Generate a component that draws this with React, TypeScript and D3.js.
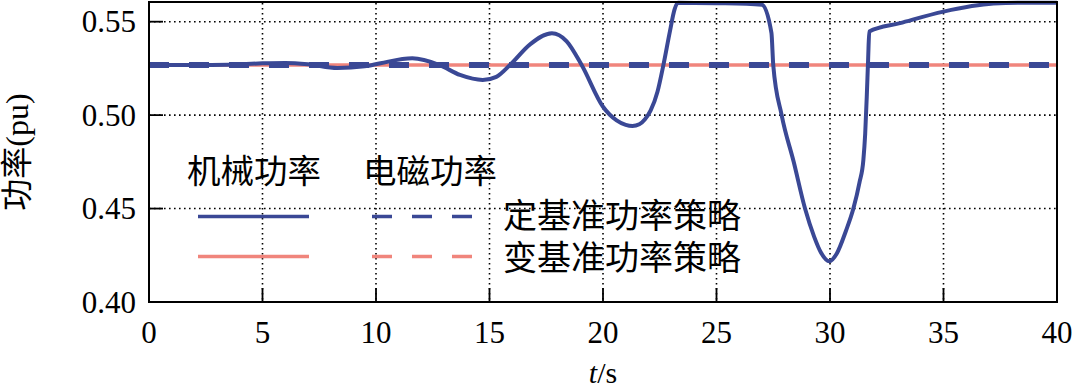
import React from "react";
import * as d3 from "d3";

const W = 1074;
const H = 389;

// x ticks (s) and y ticks (pu)
const xTicks = [0, 5, 10, 15, 20, 25, 30, 35, 40];
const yTicks = [0.4, 0.45, 0.5, 0.55];
const yTickLabels = ["0.40", "0.45", "0.50", "0.55"];

// 定基准功率策略 — 机械功率 (blue solid)
const fixedMechT = [0, 2, 3.5, 5, 6, 7, 8.3, 9.5, 10.2, 11.6, 12.8, 13.7, 14.7, 15.3, 15.9, 16.8, 17.75, 18.4, 19.06, 20, 20.6, 21.0, 21.3, 21.6, 21.85, 22.1, 22.4, 22.66, 22.95, 23.15, 23.3, 25, 27.0, 27.42, 27.5, 27.87, 28.4, 28.9, 29.3, 29.6, 29.97, 30.3, 30.7, 31.03, 31.3, 31.47, 31.55, 31.62, 31.68, 31.73, 33.08, 35, 37.2, 38.5, 40];
const fixedMechP = [0.5268, 0.5268, 0.527, 0.5277, 0.5279, 0.5272, 0.5252, 0.5261, 0.5278, 0.5304, 0.5268, 0.5215, 0.5188, 0.5205, 0.5268, 0.538, 0.5438, 0.5395, 0.5268, 0.5045, 0.4972, 0.4948, 0.4942, 0.4951, 0.4978, 0.5025, 0.5125, 0.5268, 0.545, 0.5565, 0.5602, 0.5599, 0.5591, 0.544, 0.5268, 0.5, 0.475, 0.45, 0.435, 0.4265, 0.4218, 0.426, 0.438, 0.45, 0.464, 0.476, 0.49, 0.51, 0.53, 0.5447, 0.5492, 0.5554, 0.5597, 0.5602, 0.5602];

// 定基准功率策略 — 电磁功率 (blue dashed)
const fixedElecT = [0, 40];
const fixedElecP = [0.5268, 0.5268];

// 变基准功率策略 — 机械功率 / 电磁功率 (pink)
const varMechT = [0, 40];
const varMechP = [0.5268, 0.5268];
const varElecT = [0, 40];
const varElecP = [0.5268, 0.5268];

const colHeaders = ["机械功率", "电磁功率"];
const rowLabels = ["定基准功率策略", "变基准功率策略"];

const BLUE = "#3a4895";
const PINK = "#f0857c";
const SERIF = "'Liberation Serif', 'DejaVu Serif', 'Times New Roman', Times, serif";
const CJK = "'Noto Sans CJK SC', sans-serif";

export default function App() {
  const left = 149, right = 1057, top = 3, bottom = 302;
  const x = d3.scaleLinear().domain([0, 40]).range([left, right]);
  const y = d3.scaleLinear().domain([0.4, 0.56]).range([bottom, top]);

  const mk = (ts: number[], ps: number[]) => ts.map((t, i) => [t, ps[i]] as [number, number]);
  const smooth = d3.line<[number, number]>().x(d => x(d[0])).y(d => y(d[1])).curve(d3.curveMonotoneX);
  const straight = d3.line<[number, number]>().x(d => x(d[0])).y(d => y(d[1]));

  const legendRows = [
    { color: BLUE, label: rowLabels[0], yy: 216.5, ty: 228 },
    { color: PINK, label: rowLabels[1], yy: 256.5, ty: 270 },
  ];

  return (
    <svg width={W} height={H} style={{ position: "absolute", left: 0, top: 0, background: "#fff" }}>
      <rect x={0} y={0} width={W} height={H} fill="#fff" />
      {/* grid */}
      {xTicks.filter(t => t > 0 && t < 40).map(t => (
        <line key={"gx" + t} x1={x(t)} x2={x(t)} y1={top} y2={bottom} stroke="#000" strokeWidth={1.6} strokeDasharray="1.6,3.4" />
      ))}
      {yTicks.filter(v => v > 0.4).map(v => (
        <line key={"gy" + v} x1={left} x2={right} y1={y(v)} y2={y(v)} stroke="#000" strokeWidth={1.6} strokeDasharray="1.6,3.4" />
      ))}

      {/* series */}
      <path d={straight(mk(varMechT, varMechP)) || ""} fill="none" stroke={PINK} strokeWidth={3.5} />
      <path d={straight(mk(varElecT, varElecP)) || ""} fill="none" stroke={PINK} strokeWidth={3.5} strokeDasharray="20,20" />
      <path d={smooth(mk(fixedMechT, fixedMechP)) || ""} fill="none" stroke={BLUE} strokeWidth={4} strokeLinejoin="round" />
      <path d={straight(mk(fixedElecT, fixedElecP)) || ""} fill="none" stroke={BLUE} strokeWidth={6} strokeDasharray="20,20" />

      {/* frame */}
      <rect x={left} y={top - 1} width={right - left} height={bottom - top + 1} fill="none" stroke="#000" strokeWidth={2} />

      {/* ticks */}
      {xTicks.filter(t => t > 0 && t < 40).map(t => (
        <line key={"tx" + t} x1={x(t)} x2={x(t)} y1={bottom} y2={bottom - 14} stroke="#000" strokeWidth={1.8} />
      ))}
      {yTicks.filter(v => v > 0.4).map(v => (
        <line key={"ty" + v} x1={left} x2={left + 14} y1={y(v)} y2={y(v)} stroke="#000" strokeWidth={1.8} />
      ))}

      {/* tick labels */}
      {xTicks.map(t => (
        <text key={"lx" + t} x={x(t)} y={343} textAnchor="middle" style={{ fontFamily: SERIF }} fontSize={31} fill="#000">{t}</text>
      ))}
      {yTicks.map((v, i) => (
        <text key={"ly" + v} x={136} y={y(v) + 10.5} textAnchor="end" style={{ fontFamily: SERIF }} fontSize={31} fill="#000">{yTickLabels[i]}</text>
      ))}

      {/* axis titles */}
      <text x={(left + right) / 2} y={383} textAnchor="middle" style={{ fontFamily: SERIF }} fontSize={30} fill="#000">
        <tspan fontStyle="italic">t</tspan>
        <tspan>/s</tspan>
      </text>
      <text transform="translate(28,152) rotate(-90)" textAnchor="middle" fontSize={32} fill="#000">
        <tspan style={{ fontFamily: CJK }}>功率</tspan>
        <tspan style={{ fontFamily: SERIF }}>(pu)</tspan>
      </text>

      {/* legend */}
      <text x={187} y={183} style={{ fontFamily: CJK }} fontSize={33.5} fill="#000">{colHeaders[0]}</text>
      <text x={363} y={183} style={{ fontFamily: CJK }} fontSize={33.5} fill="#000">{colHeaders[1]}</text>
      {legendRows.map((r, i) => (
        <g key={"leg" + i}>
          <line x1={198} x2={309} y1={r.yy} y2={r.yy} stroke={r.color} strokeWidth={3.3} />
          <line x1={372} x2={472} y1={r.yy} y2={r.yy} stroke={r.color} strokeWidth={3.3} strokeDasharray="20,20" />
          <text x={503} y={r.ty} style={{ fontFamily: CJK }} fontSize={34} fill="#000">{r.label}</text>
        </g>
      ))}
    </svg>
  );
}
